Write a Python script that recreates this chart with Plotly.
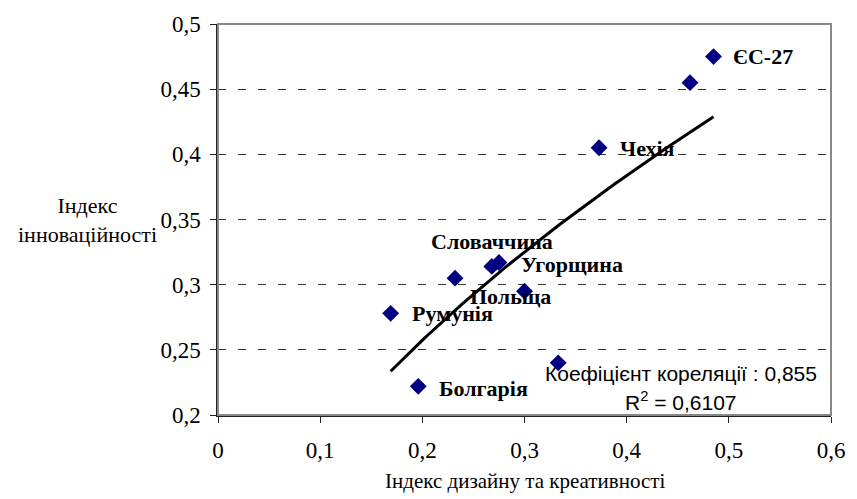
import plotly.graph_objects as go
import numpy as np

# Data
countries = ['ЄС-27', '', 'Чехія', 'Угорщина', 'Словаччина', '', 'Польща', 'Румунія', 'Болгарія', '']
design_idx = [0.485, 0.462, 0.373, 0.275, 0.268, 0.232, 0.300, 0.169, 0.196, 0.333]
innov_idx = [0.475, 0.455, 0.405, 0.317, 0.314, 0.305, 0.295, 0.278, 0.222, 0.240]

x_ticks = [0, 0.1, 0.2, 0.3, 0.4, 0.5, 0.6]
x_ticktext = ['0', '0,1', '0,2', '0,3', '0,4', '0,5', '0,6']
y_ticks = [0.2, 0.25, 0.3, 0.35, 0.4, 0.45, 0.5]
y_ticktext = ['0,2', '0,25', '0,3', '0,35', '0,4', '0,45', '0,5']

# label offsets in pixels (dx, dy)
label_offsets = [(17, 0), (0, 0), (19, -1), (20, -2), (-63, 25), (0, 0), (-57, -5), (19, 0), (19, -2), (0, 0)]

SERIF = '"Times New Roman", "Liberation Serif", "DejaVu Serif", serif'
SANS = 'Arial, "Liberation Sans", sans-serif'

# power trend y = a * x^b (fit in log space, like Excel)
lx = np.log(design_idx)
ly = np.log(innov_idx)
b, ln_a = np.polyfit(lx, ly, 1)
xt = np.linspace(min(design_idx), max(design_idx), 60)
yt = np.exp(ln_a) * xt ** b

fig = go.Figure()

fig.add_trace(go.Scatter(
    x=design_idx, y=innov_idx, mode='markers',
    marker=dict(symbol='diamond', size=13, color='#000080'),
    showlegend=False, hoverinfo='none'
))

fig.add_trace(go.Scatter(
    x=xt, y=yt, mode='lines',
    line=dict(color='black', width=3),
    showlegend=False, hoverinfo='none'
))

annotations = []
for name, xv, yv, (dx, dy) in zip(countries, design_idx, innov_idx, label_offsets):
    if not name:
        continue
    annotations.append(dict(
        x=xv, y=yv, xref='x', yref='y', text=f'<b>{name}</b>',
        showarrow=False, xanchor='left', yanchor='middle',
        xshift=dx, yshift=dy,
        font=dict(family=SERIF, size=22, color='black')
    ))

annotations += [
    dict(x=0.755, y=0.106, xref='paper', yref='paper', showarrow=False,
         text='Коефіцієнт кореляції : 0,855', xanchor='center', yanchor='middle',
         font=dict(family=SANS, size=21, color='black')),
    dict(x=0.755, y=0.035, xref='paper', yref='paper', showarrow=False,
         text='R<sup>2</sup> = 0,6107', xanchor='center', yanchor='middle',
         font=dict(family=SANS, size=21, color='black')),
    dict(x=-0.2135, y=0.4987, xref='paper', yref='paper', showarrow=False,
         text='Індекс<br>інноваційності', xanchor='center', yanchor='middle', align='center',
         font=dict(family=SERIF, size=22, color='black')),
    dict(x=0.5008, y=-0.17, xref='paper', yref='paper', showarrow=False,
         text='Індекс дизайну та креативності', xanchor='center', yanchor='middle',
         font=dict(family=SERIF, size=21, color='black')),
]

fig.update_layout(
    width=857, height=499,
    margin=dict(l=218, r=16, t=20, b=84),
    plot_bgcolor='white', paper_bgcolor='white',
    font=dict(family=SERIF, color='black'),
    annotations=annotations,
    shapes=[dict(type='rect', xref='paper', yref='paper', x0=0, y0=0, x1=1, y1=1,
                 line=dict(color='#888', width=2), layer='above')],
    xaxis=dict(
        range=[0, 0.6], tickvals=x_ticks, ticktext=x_ticktext,
        showgrid=False, zeroline=False,
        showline=True, linecolor='#222', linewidth=1.5,
        ticks='outside', ticklen=6, tickcolor='#222', ticklabelstandoff=8,
        tickfont=dict(family=SERIF, size=23, color='black')
    ),
    yaxis=dict(
        range=[0.2, 0.5], tickvals=y_ticks, ticktext=y_ticktext,
        showgrid=True, gridcolor='#333', gridwidth=1, griddash='8px,12px',
        zeroline=False,
        showline=True, linecolor='#222', linewidth=1.5,
        ticks='outside', ticklen=6, tickcolor='#222', ticklabelstandoff=5,
        tickfont=dict(family=SERIF, size=23, color='black')
    ),
)

# drop the default page margin so the figure sits at the window origin
fig.write_html("out.html", config={'displayModeBar': False},
               post_script="document.body.style.margin='0';")
